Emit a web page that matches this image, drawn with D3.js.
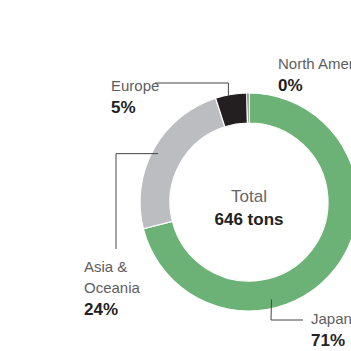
<!DOCTYPE html>
<html>
<head>
<meta charset="utf-8">
<script src="https://cdn.jsdelivr.net/npm/d3@7"></script>
<style>
  html, body { margin: 0; padding: 0; background: #fff; overflow: hidden; }
  svg { display: block; font-family: "Liberation Sans", Arial, Helvetica, sans-serif; }
</style>
</head>
<body>
<script>
// regions, clockwise from 12 o'clock
const regions = ["Japan", "Asia & Oceania", "Europe", "North America"];
const tons = [459, 155, 30, 2];
const percentLabels = ["71%", "24%", "5%", "0%"];
const totalLabel = ["Total", "646 tons"];

const width = 351, height = 351;
const cx = 249, cy = 202, outerR = 109, innerR = 79;

const color = d3.scaleOrdinal()
    .domain(regions)
    .range(["#6cb276", "#bcbdc1", "#231f20", "#231f20"]);

// label placement: leader attach angle (deg), attach radius, path after attach, text anchor point
const layout = {
    "Japan":          {angle: 167, r: 100, path: [[271, 320], [303, 320]], tx: 311, ty: 324, lines: ["Japan"]},
    "Asia & Oceania": {angle: 298, r: 103, path: [[116, null], [116, 249]], tx: 84, ty: 271.5, lines: ["Asia &", "Oceania"]},
    "Europe":         {angle: 349, r: 108, path: [[null, 83], [155, 83]], tx: 111, ty: 91, lines: ["Europe"]},
    "North America":  {angle: null, tx: 278, ty: 69, lines: ["North America"]}
};

let svg = d3.select("body").append("svg")
    .attr("width", width)
    .attr("height", height);

let pie = d3.pie()
    .sort(null)
    .value(function (d) { return d; });

let arc = d3.arc()
    .innerRadius(innerR)
    .outerRadius(outerR);

let arcs = pie(tons).map(function (d, i) {
    d.region = regions[i];
    return d;
});

let g = svg.append("g")
    .attr("transform", "translate(" + cx + "," + cy + ")");

g.selectAll("path.slice")
    .data(arcs)
    .enter().append("path")
    .attr("class", "slice")
    .attr("d", arc)
    .style("fill", function (d) { return color(d.region); })
    .style("stroke", "#fff")
    .style("stroke-width", 1.2);

// leader lines
regions.forEach(function (name) {
    let l = layout[name];
    if (l.angle === null) return;
    let a = l.angle * Math.PI / 180;
    let start = [cx + l.r * Math.sin(a), cy - l.r * Math.cos(a)];
    let pts = [start];
    let prev = start;
    l.path.forEach(function (p) {
        let q = [p[0] === null ? prev[0] : p[0], p[1] === null ? prev[1] : p[1]];
        pts.push(q);
        prev = q;
    });
    svg.append("path")
        .attr("d", d3.line()(pts))
        .style("fill", "none")
        .style("stroke", "#444")
        .style("stroke-width", 1);
});

// labels
regions.forEach(function (name, i) {
    let l = layout[name];
    let t = svg.append("text")
        .attr("x", l.tx)
        .attr("y", l.ty);
    l.lines.forEach(function (s, j) {
        t.append("tspan")
            .attr("x", l.tx)
            .attr("dy", j === 0 ? 0 : 21.5)
            .style("font-size", "15px")
            .style("fill", "#5e5e5e")
            .text(s);
    });
    t.append("tspan")
        .attr("x", l.tx)
        .attr("dy", 22)
        .style("font-size", "17px")
        .style("font-weight", "bold")
        .style("fill", "#222")
        .text(percentLabels[i]);
});

// centre total
svg.append("text")
    .attr("x", cx)
    .attr("y", 201.5)
    .attr("text-anchor", "middle")
    .style("font-size", "17px")
    .style("fill", "#666")
    .text(totalLabel[0]);

svg.append("text")
    .attr("x", cx)
    .attr("y", 225)
    .attr("text-anchor", "middle")
    .style("font-size", "17px")
    .style("font-weight", "bold")
    .style("fill", "#222")
    .text(totalLabel[1]);
</script>
</body>
</html>
